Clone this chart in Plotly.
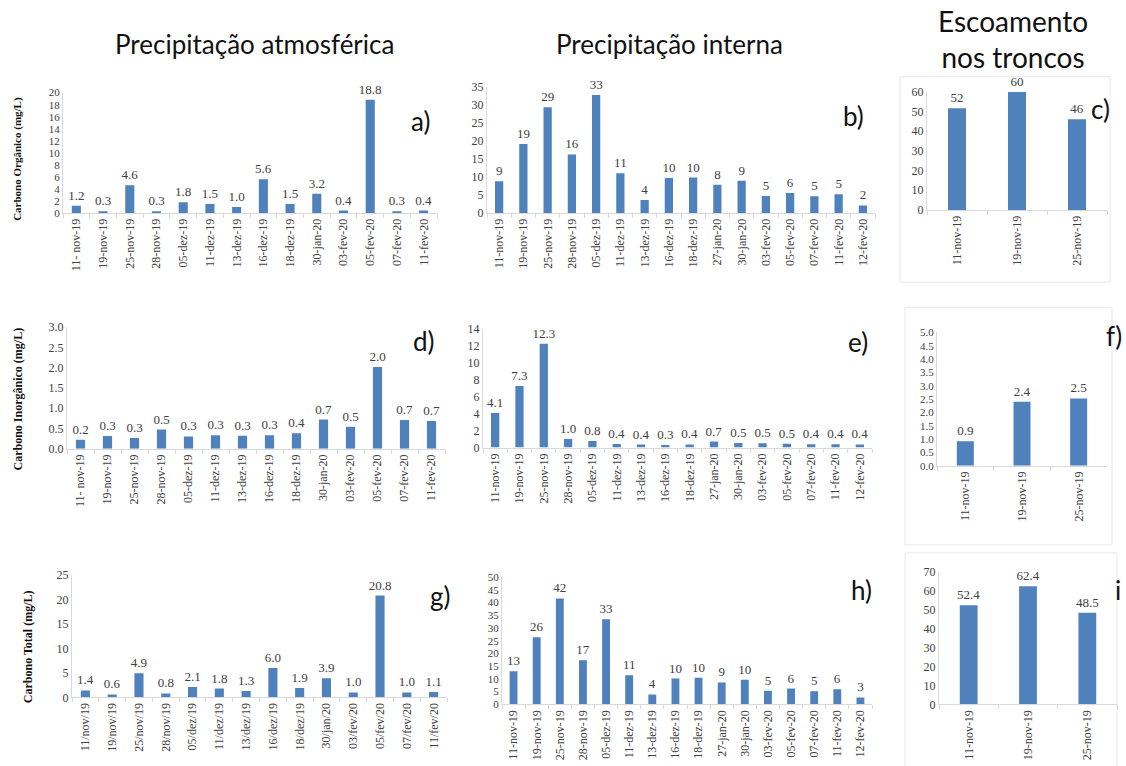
import plotly.graph_objects as go

W, H = 1126, 766

# ---------------- data ----------------
dates_atm = ["11- nov-19", "19-nov-19", "25-nov-19", "28-nov-19", "05-dez-19", "11-dez-19",
             "13-dez-19", "16-dez-19", "18-dez-19", "30-jan-20", "03-fev-20", "05-fev-20",
             "07-fev-20", "11-fev-20"]
dates_atm_g = ["11/nov/19", "19/nov/19", "25/nov/19", "28/nov/19", "05/dez/19", "11/dez/19",
               "13/dez/19", "16/dez/19", "18/dez/19", "30/jan/20", "03/fev/20", "05/fev/20",
               "07/fev/20", "11/fev/20"]
dates_int = ["11-nov-19", "19-nov-19", "25-nov-19", "28-nov-19", "05-dez-19", "11-dez-19",
             "13-dez-19", "16-dez-19", "18-dez-19", "27-jan-20", "30-jan-20", "03-fev-20",
             "05-fev-20", "07-fev-20", "11-fev-20", "12-fev-20"]
dates_tr = ["11-nov-19", "19-nov-19", "25-nov-19"]

org_atm = [1.2, 0.3, 4.6, 0.3, 1.8, 1.5, 1.0, 5.6, 1.5, 3.2, 0.4, 18.8, 0.3, 0.4]
org_int = [8.8, 19.1, 29.3, 16.2, 32.7, 11.0, 3.6, 9.7, 9.8, 7.8, 8.9, 4.7, 5.5, 4.6, 5.2, 2.1]
org_tr = [51.6, 59.8, 46.0]

inorg_atm = [0.22, 0.31, 0.26, 0.47, 0.30, 0.33, 0.32, 0.33, 0.38, 0.72, 0.54, 2.02, 0.71, 0.68]
inorg_int = [4.1, 7.3, 12.3, 1.03, 0.79, 0.42, 0.36, 0.32, 0.38, 0.71, 0.54, 0.52, 0.46, 0.40, 0.40, 0.37]
inorg_tr = [0.92, 2.4, 2.52]

tot_atm = [1.4, 0.6, 4.9, 0.8, 2.1, 1.8, 1.3, 6.0, 1.9, 3.9, 1.0, 20.8, 1.0, 1.1]
tot_int = [13.0, 26.3, 41.6, 17.3, 33.4, 11.4, 3.9, 10.1, 10.4, 8.6, 9.7, 5.3, 6.2, 5.1, 5.9, 2.7]
tot_tr = [52.4, 62.4, 48.5]

col_titles = ["Precipitação atmosférica", "Precipitação interna", "Escoamento<br>nos troncos"]
row_titles = ["Carbono Orgânico (mg/L)", "Carbono Inorgânico (mg/L)", "Carbono Total (mg/L)"]
letters = ["a)", "b)", "c)", "d)", "e)", "f)", "g)", "h)", "i"]

# ---------------- panel specs ----------------
# (x, y, text format, y max, y step, tick format, px box, bar width, ytick font size)
panels = [
    (dates_atm, org_atm, "%{y:.1f}", 20, 2, "", (63, 437, 94, 214), 0.34, 11),
    (dates_int, org_int, "%{y:.0f}", 35, 5, "", (487, 875, 88, 214), 0.34, 12),
    (dates_tr, org_tr, "%{y:.0f}", 60, 10, "", (927, 1107, 93, 211), 0.30, 12),
    (dates_atm, inorg_atm, "%{y:.1f}", 3.0, 0.5, ".1f", (67, 445, 328, 449), 0.34, 12),
    (dates_int, inorg_int, "%{y:.1f}", 14, 2, "", (483, 872, 330, 448), 0.34, 12),
    (dates_tr, inorg_tr, "%{y:.1f}", 5.0, 0.5, ".1f", (937, 1107, 333, 466), 0.30, 11),
    (dates_atm_g, tot_atm, "%{y:.1f}", 25, 5, "", (72, 447, 575, 697), 0.34, 12),
    (dates_int, tot_int, "%{y:.0f}", 50, 5, "", (502, 872, 577, 704), 0.34, 11),
    (dates_tr, tot_tr, "%{y:.1f}", 70, 10, "", (939, 1117, 572, 704), 0.30, 12),
]

BAR = "#4F81BD"
SERIF = "Liberation Serif, DejaVu Serif, serif"
SANS = "Lato, Open Sans, sans-serif"

fig = go.Figure()
layout = dict(
    width=W, height=H,
    margin=dict(l=0, r=0, t=0, b=0),
    paper_bgcolor="white", plot_bgcolor="white",
    showlegend=False,
)

def px_x(p):
    return p / W

def px_y(p):
    # calibrated for the capture's slight vertical scaling
    return 1 - ((p - 8.6) / 0.979) / H

for i, (cats, vals, tmpl, ymax, step, tfmt, box, bw, tfs) in enumerate(panels):
    k = "" if i == 0 else str(i + 1)
    x0, x1, yt, yb = box
    fig.add_trace(go.Bar(
        x=cats, y=vals, xaxis="x" + k, yaxis="y" + k,
        marker=dict(color=BAR, line=dict(width=0)),
        width=bw,
        texttemplate=tmpl, textposition="outside", cliponaxis=False,
        constraintext="none",
        textfont=dict(family=SERIF, size=13, color="#404040"),
        hoverinfo="x+y",
    ))
    n = int(round(ymax / step))
    tv = [round(j * step, 3) for j in range(n + 1)]
    layout["xaxis" + k] = dict(
        domain=[px_x(x0), px_x(x1)], anchor="y" + k,
        type="category", tickangle=-90,
        tickfont=dict(family=SERIF, size=12, color="#404040"),
        showline=True, linecolor="#d9d9d9", linewidth=1,
        ticks="outside", tickson="boundaries", ticklen=4, tickcolor="#d9d9d9",
        showgrid=False, fixedrange=True,
    )
    layout["yaxis" + k] = dict(
        domain=[px_y(yb), px_y(yt)], anchor="x" + k,
        range=[0, ymax], tickvals=tv, tickformat=tfmt,
        tickfont=dict(family=SERIF, size=tfs, color="#404040"),
        showline=True, linecolor="#d9d9d9", linewidth=1,
        showgrid=False, zeroline=False, ticks="", fixedrange=True,
    )

annotations = []
# column titles
for t, (cx, cy, fs) in zip(col_titles, [(254, 45, 26), (669, 45, 26), (1013, 41, 28)]):
    annotations.append(dict(text=t, x=px_x(cx), y=px_y(cy), xref="paper", yref="paper",
                            showarrow=False, xanchor="center", yanchor="middle",
                            font=dict(family=SANS, size=fs, color="#111111")))
# row titles
for t, (cx, cy, fs) in zip(row_titles, [(18, 160, 11), (18, 400, 12), (28, 647, 12)]):
    annotations.append(dict(text="<b>" + t + "</b>", x=px_x(cx), y=px_y(cy), xref="paper",
                            yref="paper", showarrow=False, textangle=-90,
                            xanchor="center", yanchor="middle",
                            font=dict(family=SERIF, size=fs, color="#111111")))
# panel letters (right edge in px, centre y in px)
for t, (rx, cy) in zip(letters, [(432, 122), (866, 117), (1112, 110), (437, 342), (870, 343),
                                  (1124, 337), (452, 596), (874, 590), (1123, 590)]):
    annotations.append(dict(text=t, x=px_x(rx), y=px_y(cy), xref="paper", yref="paper",
                            showarrow=False, xanchor="right", yanchor="middle",
                            font=dict(family=SANS, size=26, color="#111111")))
layout["annotations"] = annotations

# faint chart-area frames
shapes = []
for (a, b, c, d) in [(900, 78, 1110, 283), (905, 308, 1112, 545), (905, 553, 1117, 780)]:
    shapes.append(dict(type="rect", xref="paper", yref="paper",
                       x0=px_x(a), x1=px_x(c), y0=px_y(d), y1=px_y(b),
                       line=dict(color="#e8e8e8", width=1), fillcolor="rgba(0,0,0,0)",
                       layer="below"))
layout["shapes"] = shapes

fig.update_layout(**layout)
fig.write_html(
    "out.html",
    config={"displayModeBar": False},
    post_script="document.body.style.margin='0px';document.body.style.overflow='hidden';",
)
